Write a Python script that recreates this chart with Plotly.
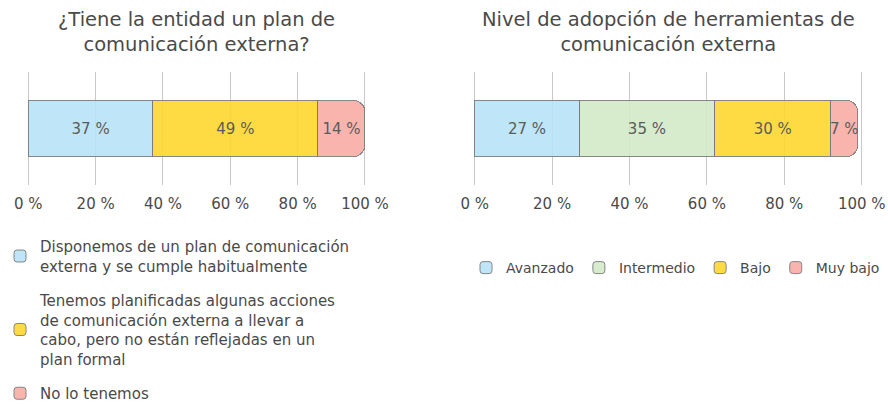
import plotly.graph_objects as go

# Left chart: existence of an external communication plan
plan_labels = [
    "Disponemos de un plan de comunicación<br>externa y se cumple habitualmente",
    "Tenemos planificadas algunas acciones<br>de comunicación externa a llevar a<br>cabo, pero no están reflejadas en un<br>plan formal",
    "No lo tenemos",
]
plan_values = [37, 49, 14]
plan_colors = ["#b9e3f8", "#fed82f", "#f9aca6"]

# Right chart: adoption level of external communication tools
adopt_labels = ["Avanzado", "Intermedio", "Bajo", "Muy bajo"]
adopt_values = [27, 35, 30, 7]
adopt_colors = ["#b9e3f8", "#d3e9c8", "#fed82f", "#f9aca6"]

tick_vals = [0, 20, 40, 60, 80, 100]
tick_text = ["0 %", "20 %", "40 %", "60 %", "80 %", "100 %"]

titles = [
    "¿Tiene la entidad un plan de<br>comunicación externa?",
    "Nivel de adopción de herramientas de<br>comunicación externa",
]

FONT = "DejaVu Sans"
TEXT_COLOR = "#4a4a4a"
BORDER = "#7a7a7a"

fig = go.Figure()

for i, (lab, val, col) in enumerate(zip(plan_labels, plan_values, plan_colors)):
    fig.add_trace(go.Bar(
        x=[val], y=[0], orientation="h", name=lab,
        marker=dict(color=col, line=dict(color=BORDER, width=1)),
        opacity=0.9,
        text=[f"{val} %"], textposition="inside", insidetextanchor="middle",
        textangle=0,
        insidetextfont=dict(family=FONT, size=15, color=TEXT_COLOR),
        xaxis="x", yaxis="y", legend="legend", legendgroup=f"p{i}",
        hoverinfo="skip",
    ))

for lab, val, col in zip(adopt_labels, adopt_values, adopt_colors):
    fig.add_trace(go.Bar(
        x=[val], y=[0], orientation="h", name=lab,
        marker=dict(color=col, line=dict(color=BORDER, width=1)),
        opacity=0.9,
        text=[f"{val} %"], textposition="inside", insidetextanchor="middle",
        textangle=0,
        insidetextfont=dict(family=FONT, size=15, color=TEXT_COLOR),
        xaxis="x2", yaxis="y2", legend="legend2",
        hoverinfo="skip",
    ))

W, H = 888, 405
ydom = [1 - 185 / H, 1 - 72 / H]

# x range padded slightly so the 0 % and 100 % gridlines are drawn
X_PAD = 0.5
xaxis_common = dict(
    range=[-X_PAD, 100 + X_PAD], tickvals=tick_vals, ticktext=tick_text,
    showgrid=True, gridcolor="#c9c9c9", gridwidth=1,
    zeroline=False, showline=False, fixedrange=True,
    tickfont=dict(family=FONT, size=15, color=TEXT_COLOR),
    ticks="", ticklabelstandoff=8, automargin=False,
)
yaxis_common = dict(range=[-0.5, 0.5], visible=False, fixedrange=True)


def padded_domain(x0_px, x100_px):
    per_unit = (x100_px - x0_px) / 100
    return [(x0_px - X_PAD * per_unit) / W, (x100_px + X_PAD * per_unit) / W]


annotations = []
for cx, t in zip([196 / W, 668 / W], titles):
    annotations.append(dict(
        x=cx, y=1 - 6 / H, xref="paper", yref="paper",
        xanchor="center", yanchor="top", showarrow=False,
        text=t, font=dict(family=FONT, size=19.5, color=TEXT_COLOR),
    ))

fig.update_layout(
    width=W, height=H,
    margin=dict(l=0, r=0, t=0, b=0, autoexpand=False),
    paper_bgcolor="white", plot_bgcolor="white",
    barmode="stack", bargap=0.5, barcornerradius=12,
    uniformtext=dict(minsize=15, mode="show"),
    xaxis=dict(domain=padded_domain(28.3, 365), anchor="y", **xaxis_common),
    yaxis=dict(domain=ydom, anchor="x", **yaxis_common),
    xaxis2=dict(domain=padded_domain(474.7, 861.7), anchor="y2", **xaxis_common),
    yaxis2=dict(domain=ydom, anchor="x2", **yaxis_common),
    legend=dict(
        x=0, y=1 - 230 / H, xanchor="left", yanchor="top",
        orientation="v", traceorder="grouped", tracegroupgap=12,
        font=dict(family=FONT, size=15, color=TEXT_COLOR),
        bgcolor="rgba(0,0,0,0)", valign="middle",
    ),
    legend2=dict(
        x=466 / W, y=1 - 268 / H, xanchor="left", yanchor="middle",
        orientation="h", traceorder="normal",
        font=dict(family=FONT, size=14, color=TEXT_COLOR),
        bgcolor="rgba(0,0,0,0)",
    ),
    annotations=annotations,
    showlegend=True,
)

fig.write_html("out.html")
